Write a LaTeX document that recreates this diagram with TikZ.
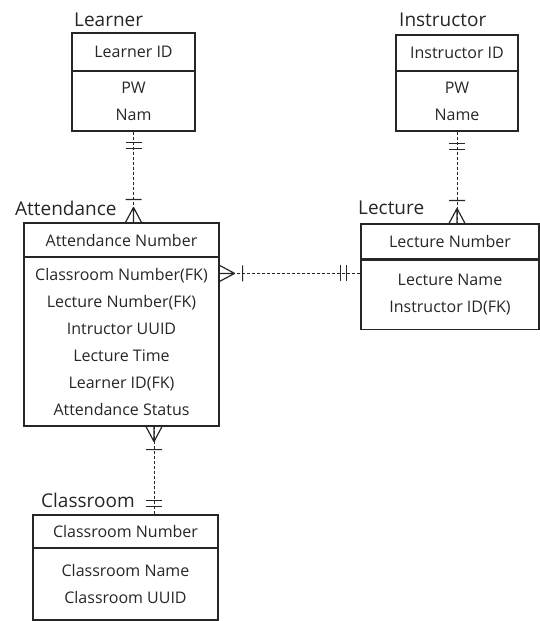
\documentclass[tikz,border=0pt]{standalone}
\usepackage{fontspec}
\setmainfont{Open Sans}
\usetikzlibrary{decorations.markings}

\tikzset{
  head/.style={draw=black!85, line width=1.2pt, inner sep=0pt, text=black!85,
    font=\fontsize{16}{27}\selectfont},
  body/.style={head, align=center},
  title/.style={anchor=base west, inner sep=0pt, text=black!85,
    font=\fontsize{19}{22}\selectfont},
  rel/.style={draw=black!85, line width=0.9pt, dash pattern=on 3pt off 2pt},
  one/.style={postaction={decorate, decoration={markings,
    mark=at position #1 with {\draw[solid, line width=1.2pt] (0,-8pt) -- (0,8pt) (6pt,-8pt) -- (6pt,8pt);}}}},
  many/.style={postaction={decorate, decoration={markings,
    mark=at position -15pt with {\draw[solid, line width=1.2pt] (0,0) -- (15pt,-8pt) (0,0) -- (15pt,8pt)
      (0,0) -- (15pt,0) (-8pt,-8pt) -- (-8pt,8pt);}}}}
}

\begin{document}
\begin{tikzpicture}[x=1pt,y=-1pt]
  \useasboundingbox (0,0) rectangle (540,621);

  % Learner
  \node[title] (LrnT) at (74,26) {Learner};
  \node[head, minimum width=123pt, minimum height=38pt] (LrnH) at (133.5,52) {Learner ID};
  \node[body, minimum width=123pt, minimum height=60pt] (LrnB) at (133.5,101) {PW\\Nam};

  % Instructor
  \node[title] (InsT) at (399,26) {Instructor};
  \node[head, minimum width=122pt, minimum height=36pt] (InsH) at (457,53) {Instructor ID};
  \node[body, minimum width=122pt, minimum height=60pt] (InsB) at (457,101) {PW\\Name};

  % Attendance
  \node[title] (AttT) at (15,215) {Attendance};
  \node[head, minimum width=195pt, minimum height=34pt] (AttH) at (121.5,240) {Attendance Number};
  \node[body, minimum width=195pt, minimum height=169pt] (AttB) at (121.5,341.5)
    {Classroom Number(FK)\\Lecture Number(FK)\\Intructor UUID\\Lecture Time\\Learner ID(FK)\\Attendance Status};

  % Lecture
  \node[title] (LecT) at (358,214) {Lecture};
  \node[head, minimum width=178pt, minimum height=35pt] (LecH) at (450,241.5) {Lecture Number};
  \node[body, minimum width=178pt, minimum height=69pt] (LecB) at (450,295) {Lecture Name\\Instructor ID(FK)};

  % Classroom
  \node[title] (ClsT) at (41,507) {Classroom};
  \node[head, minimum width=185pt, minimum height=33pt] (ClsH) at (125.5,531.5) {Classroom Number};
  \node[body, minimum width=185pt, minimum height=72pt] (ClsB) at (125.5,584) {Classroom Name\\Classroom UUID};

  % relations
  \draw[rel, one=11pt, many] (LrnB.south) -- (LrnB.south |- AttH.north);
  \draw[rel, one=12pt, many] (InsB.south) -- (InsB.south |- LecH.north);
  \coordinate (AttFK) at ([yshift=-17pt]AttB.north east);
  \draw[rel, one=14pt, many] (LecB.west |- AttFK) -- (AttFK);
  \coordinate (AttCls) at ([xshift=32.5pt]AttB.south);
  \draw[rel, one=8pt, many] (ClsH.north -| AttCls) -- (AttCls);
\end{tikzpicture}
\end{document}
